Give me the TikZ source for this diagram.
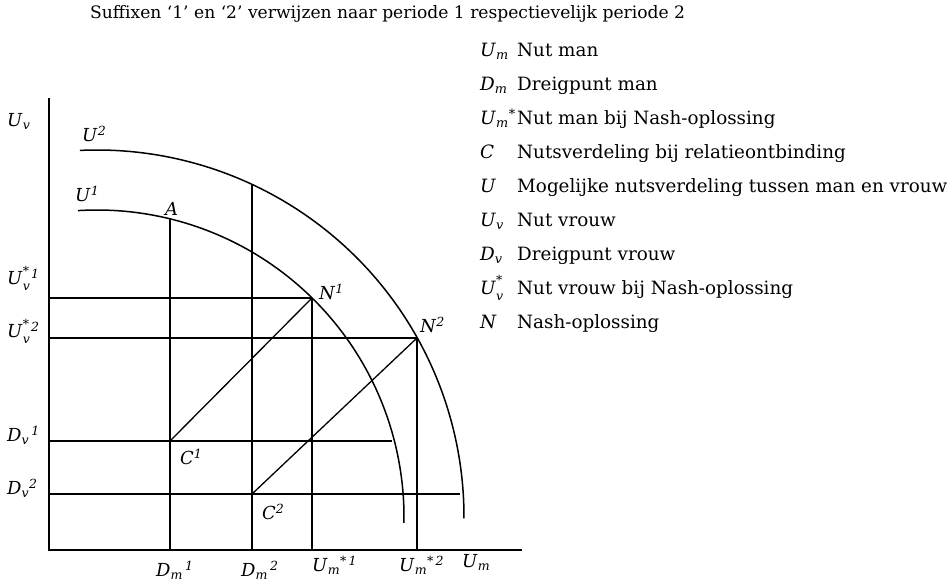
\documentclass[tikz,border=0pt]{standalone}
\usepackage{fontspec}
\setmainfont{DejaVu Serif}
\usetikzlibrary{calc}
\newcommand\sbs[1]{\textsubscript{\textit{#1}}}
\newcommand\sps[1]{\textsuperscript{\textit{#1}}}
\newcommand\stk[2]{\textit{#1}\rlap{\raisebox{-0.3em}{\fontsize{12.5}{12.5}\selectfont\textit{#2}}}\raisebox{0.55em}{\fontsize{12.5}{12.5}\selectfont *}}
\tikzset{
  txt/.style={anchor=base west, inner sep=0pt, font=\fontsize{18}{21}\selectfont},
  leg/.style={anchor=base west, inner sep=0pt, font=\fontsize{18.4}{21}\selectfont},
  ttl/.style={anchor=base west, inner sep=0pt, font=\fontsize{17.2}{20}\selectfont},
  curve/.style={line width=1.5bp},
  grid/.style={line width=1.6bp},
  diag/.style={line width=1.3bp},
}
\begin{document}
\begin{tikzpicture}[x=1bp,y=1bp]
\useasboundingbox (0,0) rectangle (951,583);
% axes
\coordinate (O) at (49,33);
\coordinate (ytop) at (49,485);
\coordinate (xend) at (522,33);
\coordinate (c) at (97,66);
\draw[grid] (ytop) -- (O) -- (xend);
% utility frontiers
\draw[curve] ($(c)+(93.55:307)$) arc[start angle=93.55, end angle=-1.1, radius=307];
\draw[curve] ($(c)+(92.66:367)$) arc[start angle=92.66, end angle=-0.2, radius=367];
% points
\coordinate (A) at ($(c)+(76.24:307)$);
\coordinate (B) at ($(c)+(65.02:367)$);
\coordinate (N1) at (312,285);
\coordinate (N2) at (417,245);
\coordinate (C1) at (170,142);
\coordinate (C2) at (252,89);
\coordinate (D1e) at (392,142);
\coordinate (D2e) at (460,89);
% verticals
\draw[grid] (A) -- (A |- O);
\draw[grid] (B) -- (B |- O);
\draw[grid] (N1) -- (N1 |- O);
\draw[grid] (N2) -- (N2 |- O);
% horizontals
\draw[grid] (N1 -| O) -- (N1);
\draw[grid] (N2 -| O) -- (N2);
\draw[grid] (C1 -| O) -- (D1e);
\draw[grid] (C2 -| O) -- (D2e);
% diagonals
\draw[diag] (C1) -- (N1);
\draw[diag] (C2) -- (N2);
% axis labels
\node[txt] (lUv) at (7,456) {\textit{U}\sbs{v}};
\node[txt] (lUvs1) at (7,298) {\stk{U}{v}\sps{\,1}};
\node[txt] (lUvs2) at (7,245) {\stk{U}{v}\sps{\,2}};
\node[txt] (lDv1) at (7,141) {\textit{D}\sbs{v}\sps{\,1}};
\node[txt] (lDv2) at (7,88) {\textit{D}\sbs{v}\sps{2}};
\node[txt] (lU2) at (82,441) {\textit{U}\sps{2}};
\node[txt] (lU1) at (75,381) {\textit{U}\sps{1}};
\node[txt] (lA) at (165,367) {\textit{A}};
\node[txt] (lC1) at (180,118) {\textit{C}\sps{1}};
\node[txt] (lC2) at (262,63) {\textit{C}\sps{2}};
\node[txt] (lN1) at (319,283) {\textit{N}\sps{1}};
\node[txt] (lN2) at (420,250) {\textit{N}\sps{2}};
\node[txt] (lDm1) at (156,6) {\textit{D}\sbs{m}\sps{\,1}};
\node[txt] (lDm2) at (241,6) {\textit{D}\sbs{m}\sps{\,2}};
\node[txt] (lUms1) at (312,11) {\textit{U}\sbs{m}\sps{*\,1}};
\node[txt] (lUms2) at (399,11) {\textit{U}\sbs{m}\sps{*\,2}};
\node[txt] (lUm) at (462,15) {\textit{U}\sbs{m}};
% title
\node[ttl] (title) at (90,564) {Suffixen ‘1’ en ‘2’ verwijzen naar periode 1 respectievelijk periode 2};
% legend
\node[leg] (s1) at (480,526) {\textit{U}\sbs{m}};
\node[leg] (t1) at (517,526) {Nut man};
\node[leg] (s2) at (480,492) {\textit{D}\sbs{m}};
\node[leg] (t2) at (517,492) {Dreigpunt man};
\node[leg] (s3) at (480,458) {\textit{U}\sbs{m}\textsuperscript{*}};
\node[leg] (t3) at (517,458) {Nut man bij Nash-oplossing};
\node[leg] (s4) at (480,424) {\textit{C}};
\node[leg] (t4) at (517,424) {Nutsverdeling bij relatieontbinding};
\node[leg] (s5) at (480,390) {\textit{U}};
\node[leg] (t5) at (517,390) {Mogelijke nutsverdeling tussen man en vrouw};
\node[leg] (s6) at (480,356) {\textit{U}\sbs{v}};
\node[leg] (t6) at (517,356) {Nut vrouw};
\node[leg] (s7) at (480,322) {\textit{D}\sbs{v}};
\node[leg] (t7) at (517,322) {Dreigpunt vrouw};
\node[leg] (s8) at (480,288) {\stk{U}{v}};
\node[leg] (t8) at (517,288) {Nut vrouw bij Nash-oplossing};
\node[leg] (s9) at (480,254) {\textit{N}};
\node[leg] (t9) at (517,254) {Nash-oplossing};
\end{tikzpicture}
\end{document}
